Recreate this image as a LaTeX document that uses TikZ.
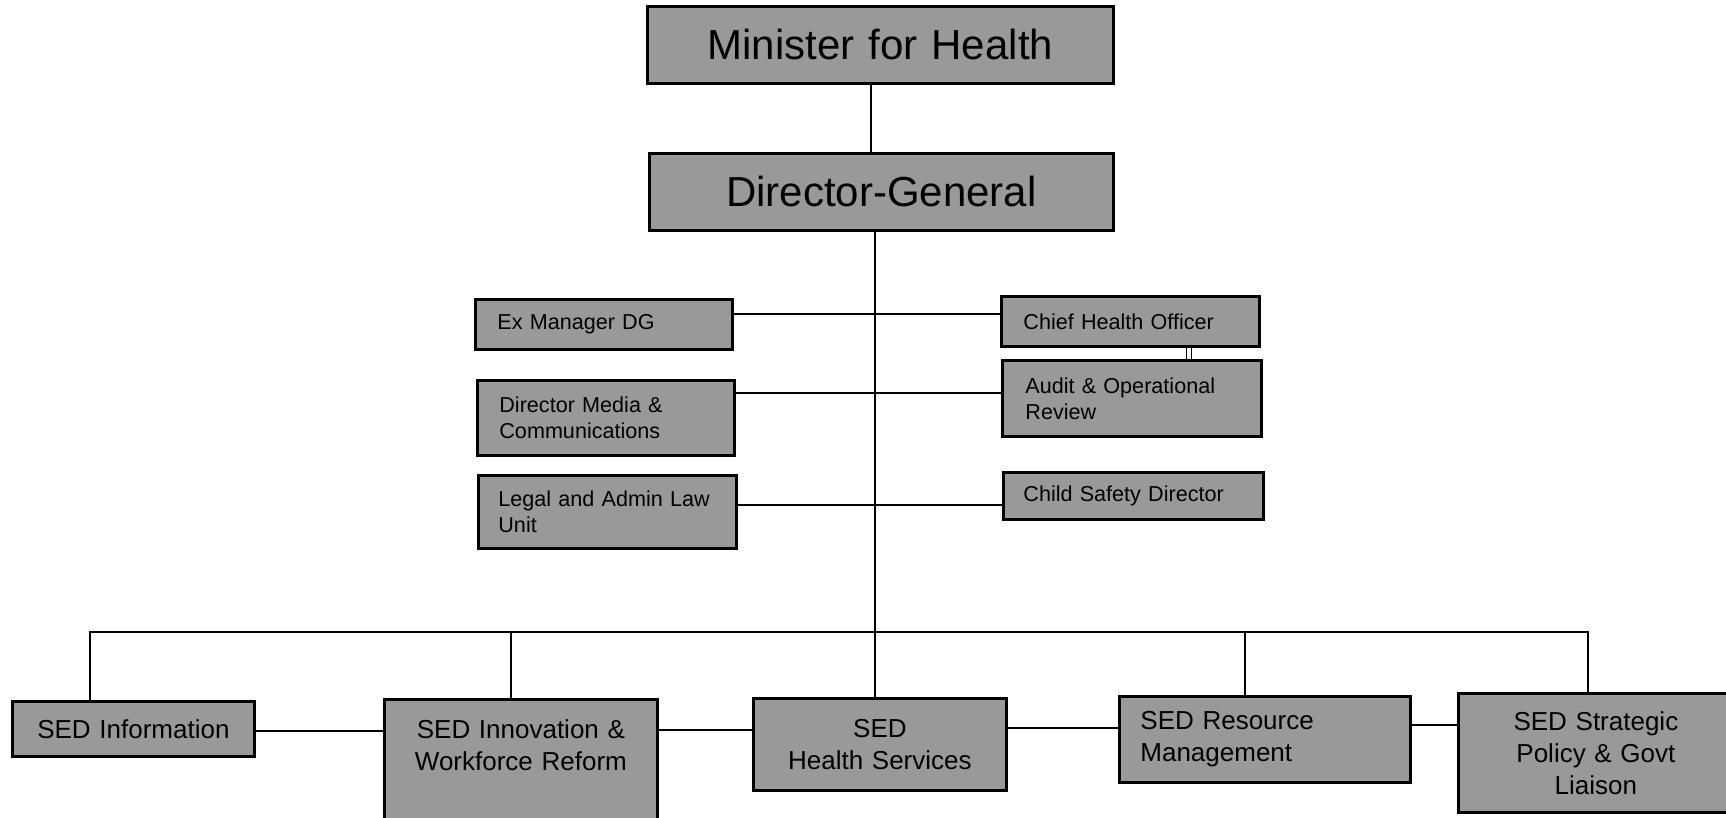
\documentclass[tikz,border=0pt]{standalone}
\usepackage{fontspec}
\setmainfont{Liberation Sans}
\usetikzlibrary{backgrounds}
\definecolor{boxgray}{gray}{0.6}
\begin{document}
\begin{tikzpicture}[x=0.5pt,y=-0.5pt,
  box/.style={draw=black, line width=1.4pt, fill=boxgray, anchor=north west,
    inner ysep=0pt, minimum height=#1},
  ctr/.style={align=center, inner xsep=0pt, text width=#1},
  lft/.style 2 args={align=left, inner xsep=#2, text width=#1},
  bigf/.style={font=\fontsize{21}{25}\selectfont},
  midf/.style={font=\fontsize{10.8}{13}\selectfont},
  lowf/.style={font=\fontsize{13}{16}\selectfont},
  conn/.style={draw=black, line width=1pt}]
\useasboundingbox (0,0) rectangle (1726,818);
\clip (0,0) rectangle (1726,818);

% top
\node[box=38.5pt, bigf, ctr=233pt] (min) at (646,5) {Minister for Health};
\node[box=38.5pt, bigf, ctr=232pt] (dg) at (648,152) {Director-General};

% middle left
\node[box=25pt, midf, lft={106.5pt}{11pt}] (exm) at (474,298) {Ex Manager DG};
\node[box=37.5pt, midf, lft={106.5pt}{11pt}] (media) at (476,379) {Director Media \&\\Communications};
\node[box=36.5pt, midf, lft={109pt}{10pt}] (legal) at (477,474) {Legal and Admin Law\\Unit};

% middle right
\node[box=25pt, midf, lft={107pt}{11pt}] (chief) at (1000,295) {Chief Health Officer};
\node[box=38pt, midf, lft={106.5pt}{11.5pt}] (audit) at (1001,359) {Audit \& Operational\\Review};
\node[box=23.5pt, midf, lft={110pt}{10pt}] (child) at (1002,471) {Child Safety Director};

% bottom
\node[box=27.5pt, lowf, ctr=121pt] (info) at (11,700) {SED Information};
\node[box=10pt, lowf, ctr=136.5pt, inner ysep=10pt, text depth=48pt] (innov) at (383,698) {SED Innovation \&\\Workforce Reform};
\node[box=46pt, lowf, ctr=126.5pt] (health) at (752,697) {SED\\Health Services};
\node[box=43pt, lowf, lft={124.5pt}{10.5pt}] (res) at (1118,695) {SED Resource\\Management};
\node[box=59.5pt, lowf, ctr=137.5pt] (strat) at (1457,692) {SED Strategic\\Policy \& Govt\\Liaison};

\coordinate (busL) at (90,632);
\coordinate (busR) at (1588,632);
\coordinate (busI) at (511,632);
\coordinate (busS) at (1245,632);
\coordinate (trunk) at (875,632);

\begin{scope}[on background layer]
\fill[white] (0,0) rectangle (1726,818);
\draw[conn] (min.south -| 871,0) -- (dg.north -| 871,0);
\draw[conn] (dg.south -| trunk) -- (health.north -| trunk);
\draw[conn] (exm.east |- 0,314) -- (chief.west |- 0,314);
\draw[conn] (media.east |- 0,393) -- (audit.west |- 0,393);
\draw[conn] (legal.east |- 0,505) -- (child.west |- 0,505);
\draw[line width=0.5pt, double, double distance=2pt] (chief.south -| 1189,0) -- (audit.north -| 1189,0);
\draw[conn] (info.north -| busL) -- (busL) -- (busR) -- (strat.north -| busR);
\draw[conn] (busI) -- (innov.north -| busI);
\draw[conn] (busS) -- (res.north -| busS);
\draw[conn] (info.east |- 0,731) -- (innov.west |- 0,731);
\draw[conn] (innov.east |- 0,730) -- (health.west |- 0,730);
\draw[conn] (health.east |- 0,728) -- (res.west |- 0,728);
\draw[conn] (res.east |- 0,725) -- (strat.west |- 0,725);
\end{scope}
\end{tikzpicture}
\end{document}
